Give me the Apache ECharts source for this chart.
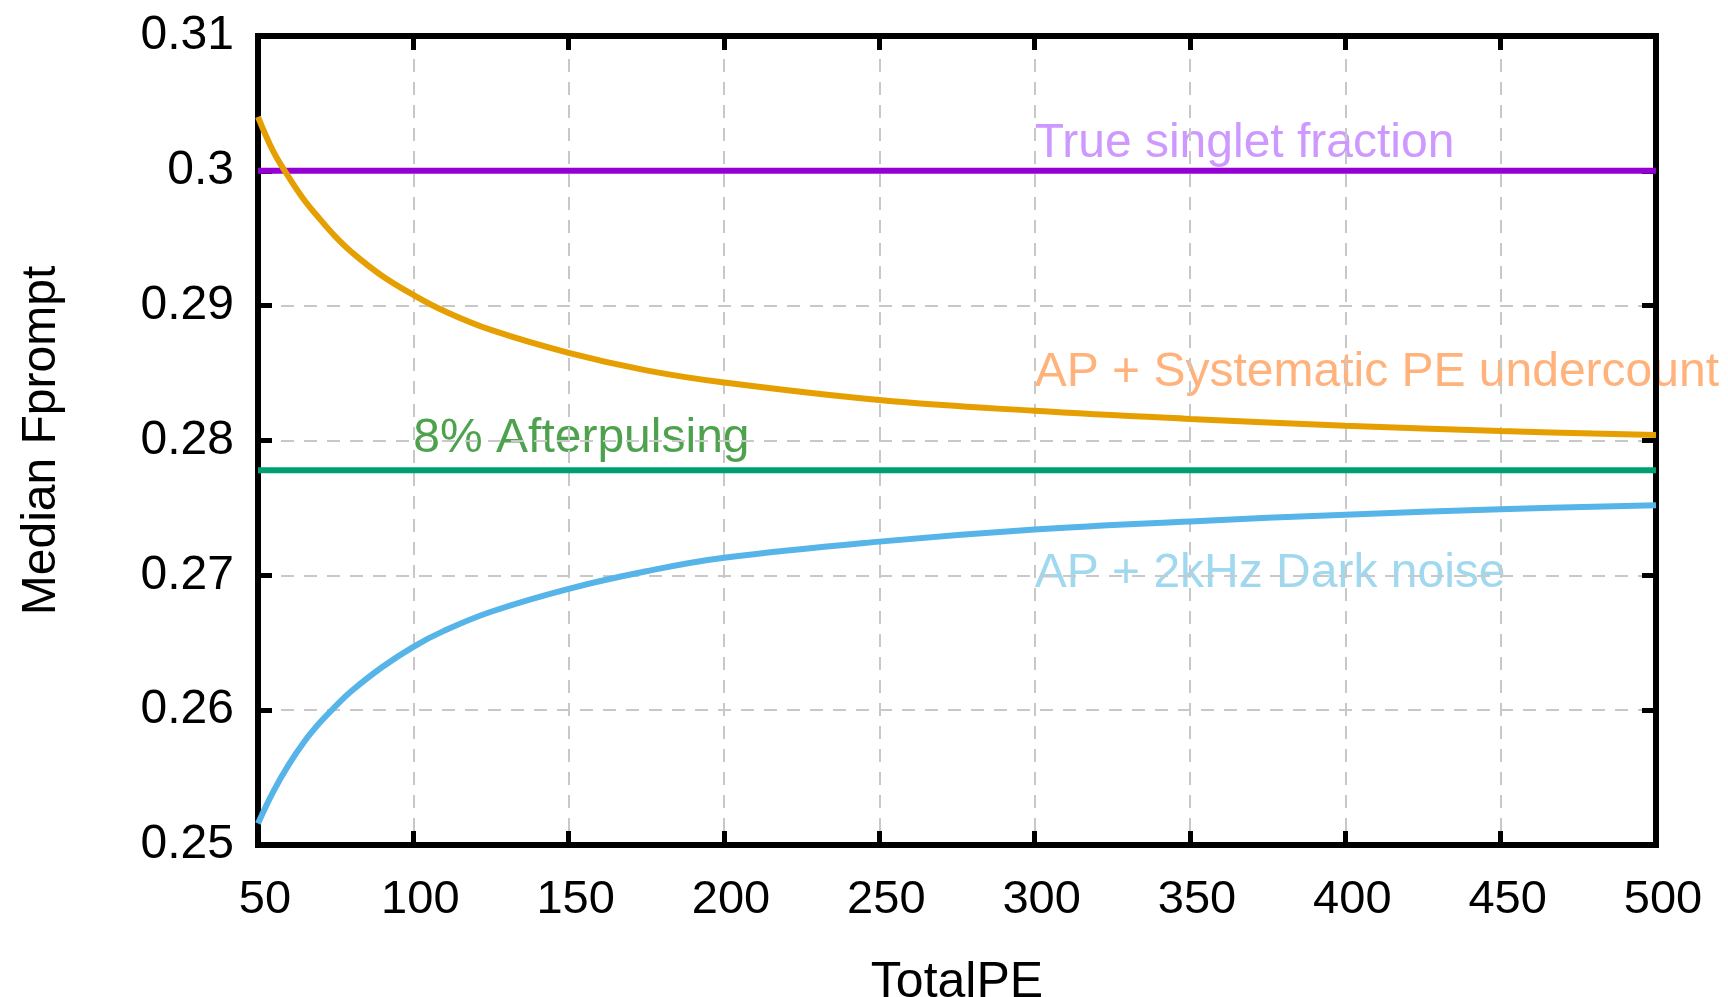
<!DOCTYPE html>
<html>
<head>
<meta charset="utf-8">
<script src="https://cdn.jsdelivr.net/npm/echarts@6/dist/echarts.min.js"></script>
<style>
  html, body { margin: 0; padding: 0; background: #ffffff; }
  #chart { width: 1728px; height: 997px; }
</style>
</head>
<body>
<div id="chart"></div>
<script>
// ---- values ----
const totalPE = [50, 55, 60, 65, 70, 75, 80, 90, 100, 110, 125, 150, 175, 200, 250, 300, 350, 400, 450, 500];
const apUndercount = [0.3040, 0.3014, 0.2995, 0.2978, 0.2964, 0.2951, 0.2940, 0.2922, 0.2908, 0.2896,
                      0.2882, 0.2865, 0.2852, 0.2843, 0.2830, 0.2822, 0.2816, 0.2811, 0.2807, 0.2804];
const apDarkNoise  = [0.2516, 0.2540, 0.2560, 0.2577, 0.2591, 0.2603, 0.2614, 0.2632, 0.2647, 0.2659,
                      0.2673, 0.2690, 0.2703, 0.2713, 0.2725, 0.2734, 0.2740, 0.2745, 0.2749, 0.2752];
const trueSinglet = 0.3;
const afterpulsing = 0.2778;
const xTicks = [50, 100, 150, 200, 250, 300, 350, 400, 450, 500];
const yTicks = [0.25, 0.26, 0.27, 0.28, 0.29, 0.30, 0.31];
const labelTexts = ['True singlet fraction', 'AP + Systematic PE undercount', '8% Afterpulsing', 'AP + 2kHz Dark noise'];

// ---- chart ----
const FONT = "'Liberation Sans', Arial, Helvetica, sans-serif";
const xMin = xTicks[0], xMax = xTicks[xTicks.length - 1];
const xStep = xTicks[1] - xTicks[0];
const yMin = yTicks[0], yMax = yTicks[yTicks.length - 1];
const yStep = Math.round((yTicks[1] - yTicks[0]) * 1000) / 1000;

const pairs = (xs, ys) => xs.map((x, i) => [x, ys[i]]);
const flat = v => [[xMin, v], [xMax, v]];

const frameLine = { show: true, lineStyle: { color: '#000', width: 6, cap: 'square' } };
const innerTick = { show: true, inside: true, length: 14, lineStyle: { color: '#000', width: 5 } };
const gridDash = { show: true, lineStyle: { color: '#c8c8c8', width: 2, type: [13, 10] } };

function curve(name, data, color) {
  return {
    name, type: 'line', data, showSymbol: false, smooth: 0.4, clip: true,
    lineStyle: { color, width: 6 }, itemStyle: { color }, z: 3
  };
}

// text annotations anchored in data coordinates (left edge, cap-middle)
const annotations = [
  { text: labelTexts[0], at: [300, 0.3020], color: '#c080ff' },
  { text: labelTexts[1], at: [300, 0.2850], color: '#ff9f5a' },
  { text: labelTexts[2], at: [100, 0.2801], color: '#228b22' },
  { text: labelTexts[3], at: [300, 0.2701], color: '#87ceeb' }
];

const chart = echarts.init(document.getElementById('chart'), null, { renderer: 'canvas' });

chart.setOption({
  animation: false,
  backgroundColor: '#ffffff',
  textStyle: { fontFamily: FONT },
  grid: { left: 258, right: 72, top: 36, bottom: 152, containLabel: false, outerBoundsMode: 'none' },
  xAxis: [
    {
      type: 'value', position: 'bottom', min: xMin, max: xMax, interval: xStep,
      name: 'TotalPE', nameLocation: 'middle', nameGap: 113,
      nameTextStyle: { color: '#000', fontSize: 50, fontFamily: FONT },
      axisLine: frameLine, axisTick: innerTick, splitLine: gridDash,
      axisLabel: { color: '#000', fontSize: 47, fontFamily: FONT, margin: 32, padding: [0, 0, 0, 14] }
    },
    {
      type: 'value', position: 'top', min: xMin, max: xMax, interval: xStep,
      axisLine: frameLine, axisTick: innerTick, splitLine: { show: false }, axisLabel: { show: false }
    }
  ],
  yAxis: [
    {
      type: 'value', position: 'left', min: yMin, max: yMax, interval: yStep,
      name: 'Median Fprompt', nameLocation: 'middle', nameGap: 192,
      nameTextStyle: { color: '#000', fontSize: 48, fontFamily: FONT },
      axisLine: frameLine, axisTick: innerTick, splitLine: gridDash,
      axisLabel: { color: '#000', fontSize: 48, fontFamily: FONT, margin: 24 }
    },
    {
      type: 'value', position: 'right', min: yMin, max: yMax, interval: yStep,
      axisLine: frameLine, axisTick: innerTick, splitLine: { show: false }, axisLabel: { show: false }
    }
  ],
  series: [
    curve('True singlet fraction', flat(trueSinglet), '#9400d3'),
    curve('8% Afterpulsing', flat(afterpulsing), '#009e73'),
    curve('AP + Systematic PE undercount', pairs(totalPE, apUndercount), '#e69f00'),
    curve('AP + 2kHz Dark noise', pairs(totalPE, apDarkNoise), '#56b4e9'),
    ...annotations.map(a => ({
      type: 'scatter', name: a.text, data: [a.at], symbolSize: 0, z: -1, silent: true,
      label: {
        show: true, position: 'right', distance: 0, formatter: a.text,
        color: a.color, fontSize: 48, fontFamily: FONT
      }
    }))
  ]
});
</script>
</body>
</html>
